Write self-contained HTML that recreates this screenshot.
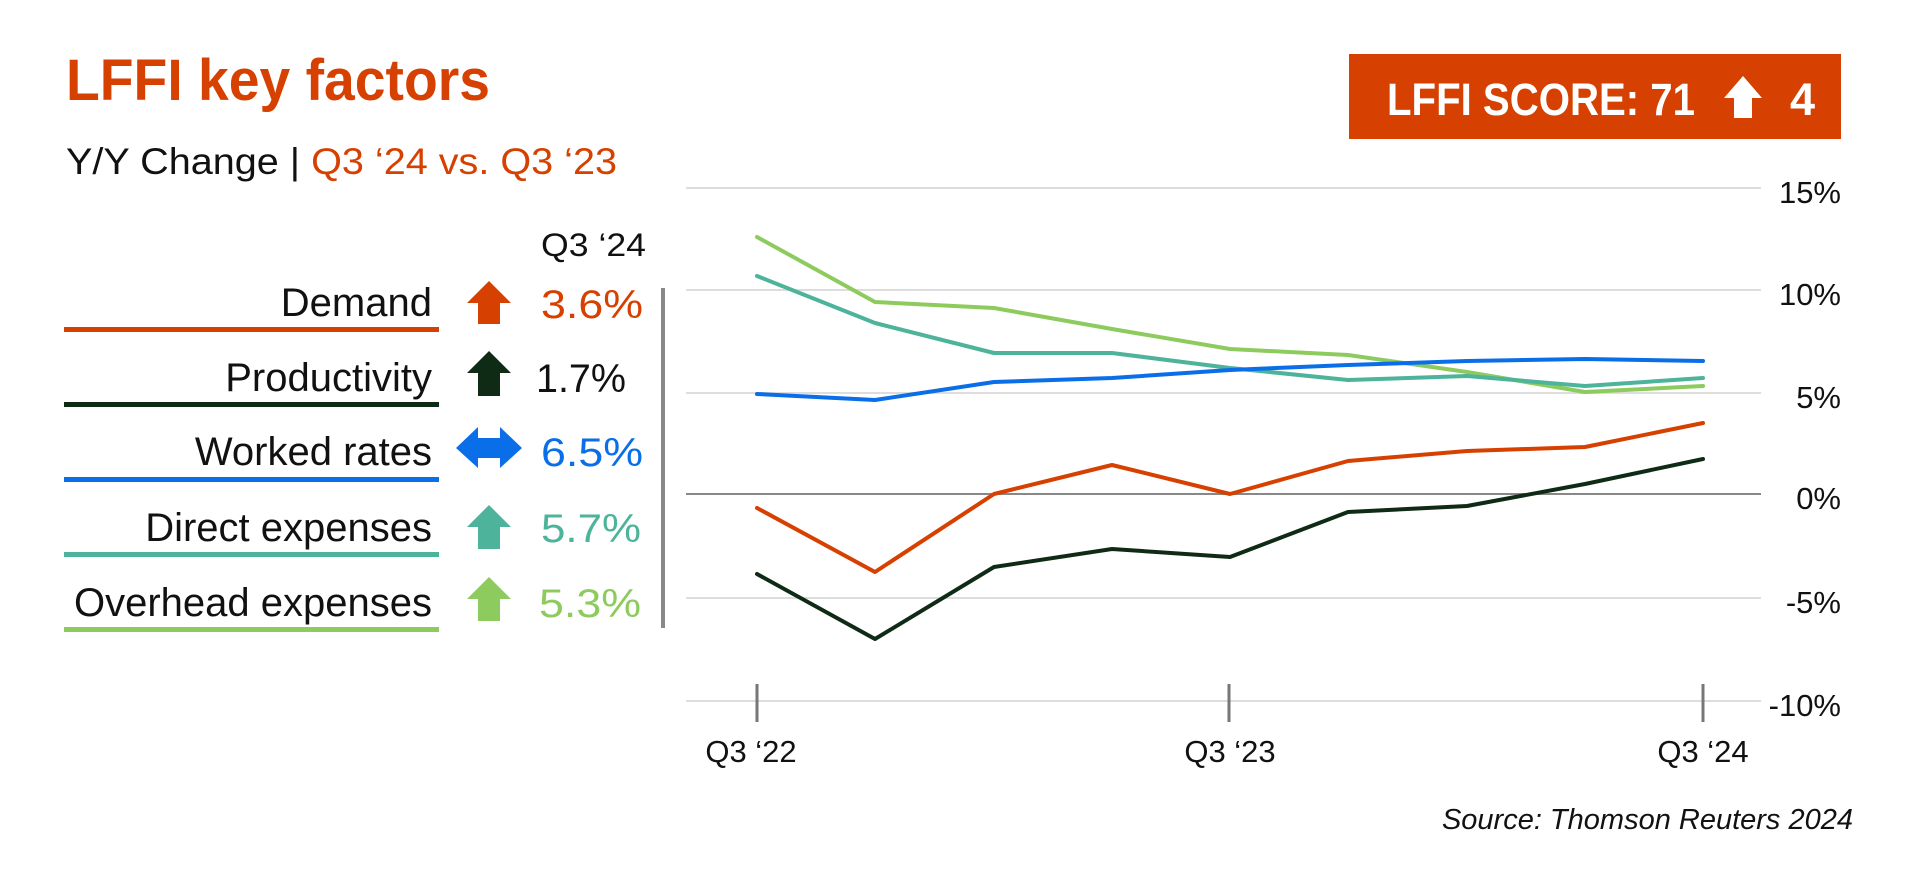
<!DOCTYPE html>
<html><head><meta charset="utf-8"><style>
html,body{margin:0;padding:0;background:#fff;}
svg{display:block;}
text{font-family:"Liberation Sans",sans-serif;}
</style></head><body>
<svg width="1920" height="872" viewBox="0 0 1920 872" xmlns="http://www.w3.org/2000/svg">
<rect width="1920" height="872" fill="#fff"/>
<!-- title -->
<text x="66" y="100" font-size="58" font-weight="bold" fill="#d64000" textLength="424" lengthAdjust="spacingAndGlyphs">LFFI key factors</text>
<text x="66" y="174" font-size="37" fill="#111" textLength="551" lengthAdjust="spacingAndGlyphs">Y/Y Change | <tspan fill="#d64000">Q3 ‘24 vs. Q3 ‘23</tspan></text>
<!-- score box -->
<rect x="1349" y="54" width="492" height="85" fill="#d64000"/>
<text x="1387" y="115" font-size="45" font-weight="bold" fill="#fff" textLength="308" lengthAdjust="spacingAndGlyphs">LFFI SCORE: 71</text>
<polygon points="1743,76 1762,98 1752,98 1752,118 1734,118 1734,98 1724,98" fill="#fff"/>
<text x="1790" y="115" font-size="45" font-weight="bold" fill="#fff">4</text>
<!-- left table -->
<text x="541" y="256" font-size="32" fill="#111" textLength="105" lengthAdjust="spacingAndGlyphs">Q3 ‘24</text>
<g font-size="40" fill="#111" text-anchor="end">
<text x="432" y="316">Demand</text>
<text x="432" y="391">Productivity</text>
<text x="432" y="465">Worked rates</text>
<text x="432" y="541">Direct expenses</text>
<text x="432" y="616">Overhead expenses</text>
</g>
<rect x="64" y="327" width="375" height="5" fill="#d64000"/>
<rect x="64" y="402" width="375" height="5" fill="#0f2a15"/>
<rect x="64" y="477" width="375" height="5" fill="#0a6ee8"/>
<rect x="64" y="552" width="375" height="5" fill="#4db39a"/>
<rect x="64" y="627" width="375" height="5" fill="#8dcb5f"/>
<polygon points="489,281 511,303 500,303 500,324 478,324 478,303 467,303" fill="#d64000"/>
<polygon points="489,351 511,373 500,373 500,396 478,396 478,373 467,373" fill="#0f2a15"/>
<polygon points="456,448 478,427 478,438 500,438 500,427 522,448 500,468 500,458 478,458 478,468" fill="#0a6ee8"/>
<polygon points="489,505 511,527 500,527 500,549 478,549 478,527 467,527" fill="#4db39a"/>
<polygon points="489,577 511,599 500,599 500,621 478,621 478,599 467,599" fill="#8dcb5f"/>
<g font-size="40">
<text x="541" y="318" fill="#d64000" textLength="102" lengthAdjust="spacingAndGlyphs">3.6%</text>
<text x="536" y="392" fill="#111" textLength="90" lengthAdjust="spacingAndGlyphs">1.7%</text>
<text x="541" y="466" fill="#0a6ee8" textLength="102" lengthAdjust="spacingAndGlyphs">6.5%</text>
<text x="541" y="542" fill="#4db39a" textLength="100" lengthAdjust="spacingAndGlyphs">5.7%</text>
<text x="539" y="617" fill="#8dcb5f" textLength="102" lengthAdjust="spacingAndGlyphs">5.3%</text>
</g>
<rect x="661" y="288" width="4" height="340" fill="#888"/>
<!-- grid -->
<g stroke="#ddd" stroke-width="2">
<line x1="686" y1="188" x2="1761" y2="188"/>
<line x1="686" y1="290" x2="1761" y2="290"/>
<line x1="686" y1="393" x2="1761" y2="393"/>
<line x1="686" y1="598" x2="1761" y2="598"/>
<line x1="686" y1="701" x2="1761" y2="701"/>
</g>
<line x1="686" y1="494" x2="1761" y2="494" stroke="#888" stroke-width="2"/>
<g stroke="#777" stroke-width="3">
<line x1="757" y1="684" x2="757" y2="722"/>
<line x1="1229" y1="684" x2="1229" y2="722"/>
<line x1="1703" y1="684" x2="1703" y2="722"/>
</g>
<g font-size="31" fill="#111" text-anchor="end">
<text x="1841" y="203">15%</text>
<text x="1841" y="305">10%</text>
<text x="1841" y="408">5%</text>
<text x="1841" y="509">0%</text>
<text x="1841" y="613">-5%</text>
<text x="1841" y="716">-10%</text>
</g>
<g font-size="31" fill="#111" text-anchor="middle">
<text x="751" y="762">Q3 ‘22</text>
<text x="1230" y="762">Q3 ‘23</text>
<text x="1703" y="762">Q3 ‘24</text>
</g>
<text x="1853" y="829" font-size="29" font-style="italic" fill="#111" text-anchor="end">Source: Thomson Reuters 2024</text>
<!-- series: x = 757 + i*118.25 ; y = 494 - v*20.4 -->
<g fill="none" stroke-width="4" stroke-linejoin="round" stroke-linecap="round">
<polyline stroke="#8dcb5f" points="757,237 875,302 994,308 1112,329 1230,349 1348,355 1467,372 1585,392 1703,386"/>
<polyline stroke="#4db39a" points="757,276 875,323 994,353 1112,353 1230,368 1348,380 1467,376 1585,386 1703,378"/>
<polyline stroke="#0a6ee8" points="757,394 875,400 994,382 1112,378 1230,370 1348,365 1467,361 1585,359 1703,361"/>
<polyline stroke="#d64000" points="757,508 875,572 994,494 1112,465 1230,494 1348,461 1467,451 1585,447 1703,423"/>
<polyline stroke="#0f2a15" points="757,574 875,639 994,567 1112,549 1230,557 1348,512 1467,506 1585,484 1703,459"/>
</g>
</svg>
</body></html>
